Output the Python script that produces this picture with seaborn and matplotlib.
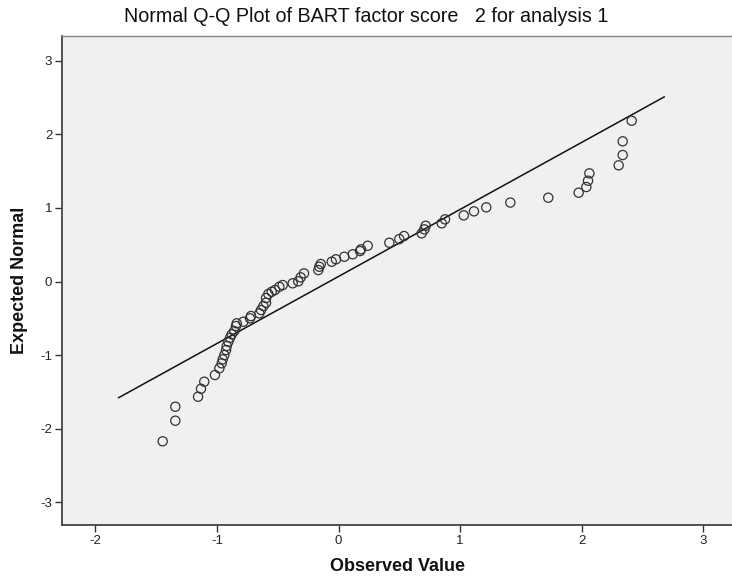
import matplotlib
matplotlib.use("Agg")
import matplotlib.pyplot as plt
import seaborn as sns
import numpy as np
import pandas as pd

observed = [-1.446, -1.342, -1.342, -1.155, -1.131, -1.104, -1.016, -0.980, -0.961, -0.952,
            -0.939, -0.925, -0.919, -0.906, -0.892, -0.878, -0.857, -0.843, -0.837, -0.783,
            -0.728, -0.720, -0.651, -0.637, -0.618, -0.596, -0.596, -0.577, -0.549, -0.522,
            -0.487, -0.459, -0.377, -0.331, -0.311, -0.284, -0.166, -0.158, -0.146, -0.056,
            -0.021, 0.048, 0.117, 0.177, 0.185, 0.240, 0.418, 0.500, 0.539, 0.684,
            0.706, 0.717, 0.849, 0.876, 1.030, 1.114, 1.215, 1.413, 1.725, 1.975,
            2.038, 2.052, 2.063, 2.304, 2.337, 2.337, 2.411]
expected = [-2.171, -1.891, -1.701, -1.565, -1.457, -1.361, -1.270, -1.179, -1.111, -1.057,
            -0.999, -0.931, -0.876, -0.818, -0.764, -0.717, -0.673, -0.605, -0.568, -0.546,
            -0.500, -0.469, -0.432, -0.387, -0.333, -0.288, -0.224, -0.170, -0.139, -0.115,
            -0.071, -0.048, -0.024, 0.003, 0.057, 0.111, 0.156, 0.201, 0.238, 0.269,
            0.302, 0.337, 0.370, 0.414, 0.438, 0.486, 0.527, 0.577, 0.618, 0.655,
            0.709, 0.758, 0.791, 0.845, 0.899, 0.954, 1.008, 1.073, 1.139, 1.207,
            1.284, 1.370, 1.470, 1.579, 1.719, 1.905, 2.185]

# Reference line endpoints
line_x = [-1.81, 2.68]
line_y = [-1.58, 2.51]

x_ticks = [-2, -1, 0, 1, 2, 3]
y_ticks = [-3, -2, -1, 0, 1, 2, 3]

title = "Normal Q-Q Plot of BART factor score   2 for analysis 1"
x_label = "Observed Value"
y_label = "Expected Normal"

sns.set_theme(style="white")
plt.rcParams['font.family'] = ['Liberation Sans', 'DejaVu Sans']

fig = plt.figure(figsize=(7.32, 5.78), dpi=100)
ax = fig.add_axes([0.0847, 0.0917, 0.9153, 0.846])
ax.set_facecolor("#F0F0F0")

pts = pd.DataFrame({"Observed": observed, "Expected": expected})
line = pd.DataFrame({"x": line_x, "y": line_y})

sns.lineplot(data=line, x="x", y="y", ax=ax, color="#111111", linewidth=1.1, zorder=2)
sns.scatterplot(data=pts, x="Observed", y="Expected", ax=ax, s=44, marker="o",
                facecolor="none", edgecolor="#333333", linewidth=0.9, zorder=3)

ax.set_xlim(-2.274, 3.236)
ax.set_ylim(-3.308, 3.336)
ax.set_xticks(x_ticks)
ax.set_yticks(y_ticks)
ax.set_xticklabels([str(t) for t in x_ticks])
ax.set_yticklabels([str(t) for t in y_ticks])
ax.tick_params(axis="both", which="both", direction="out", length=5, width=1,
               color="#333333", labelsize=9.5, labelcolor="#222222", pad=2,
               bottom=True, left=True)

for side in ["left", "bottom"]:
    ax.spines[side].set_color("#444444")
    ax.spines[side].set_linewidth(1.3)
ax.spines["top"].set_color("#888888")
ax.spines["top"].set_linewidth(1.0)
ax.spines["right"].set_visible(False)

ax.set_xlabel(x_label, fontsize=13, fontweight="bold", color="#111111")
ax.set_ylabel(y_label, fontsize=13, fontweight="bold", color="#111111")
ax.xaxis.set_label_coords(0.5, -0.084)
ax.yaxis.set_label_coords(-0.063, 0.5)
ax.xaxis.label.set_va("center")
ax.yaxis.label.set_va("center")
fig.text(0.5, 0.9706, title, ha="center", va="center", fontsize=14.2, color="#111111")

fig.savefig("out.png", dpi=100)
